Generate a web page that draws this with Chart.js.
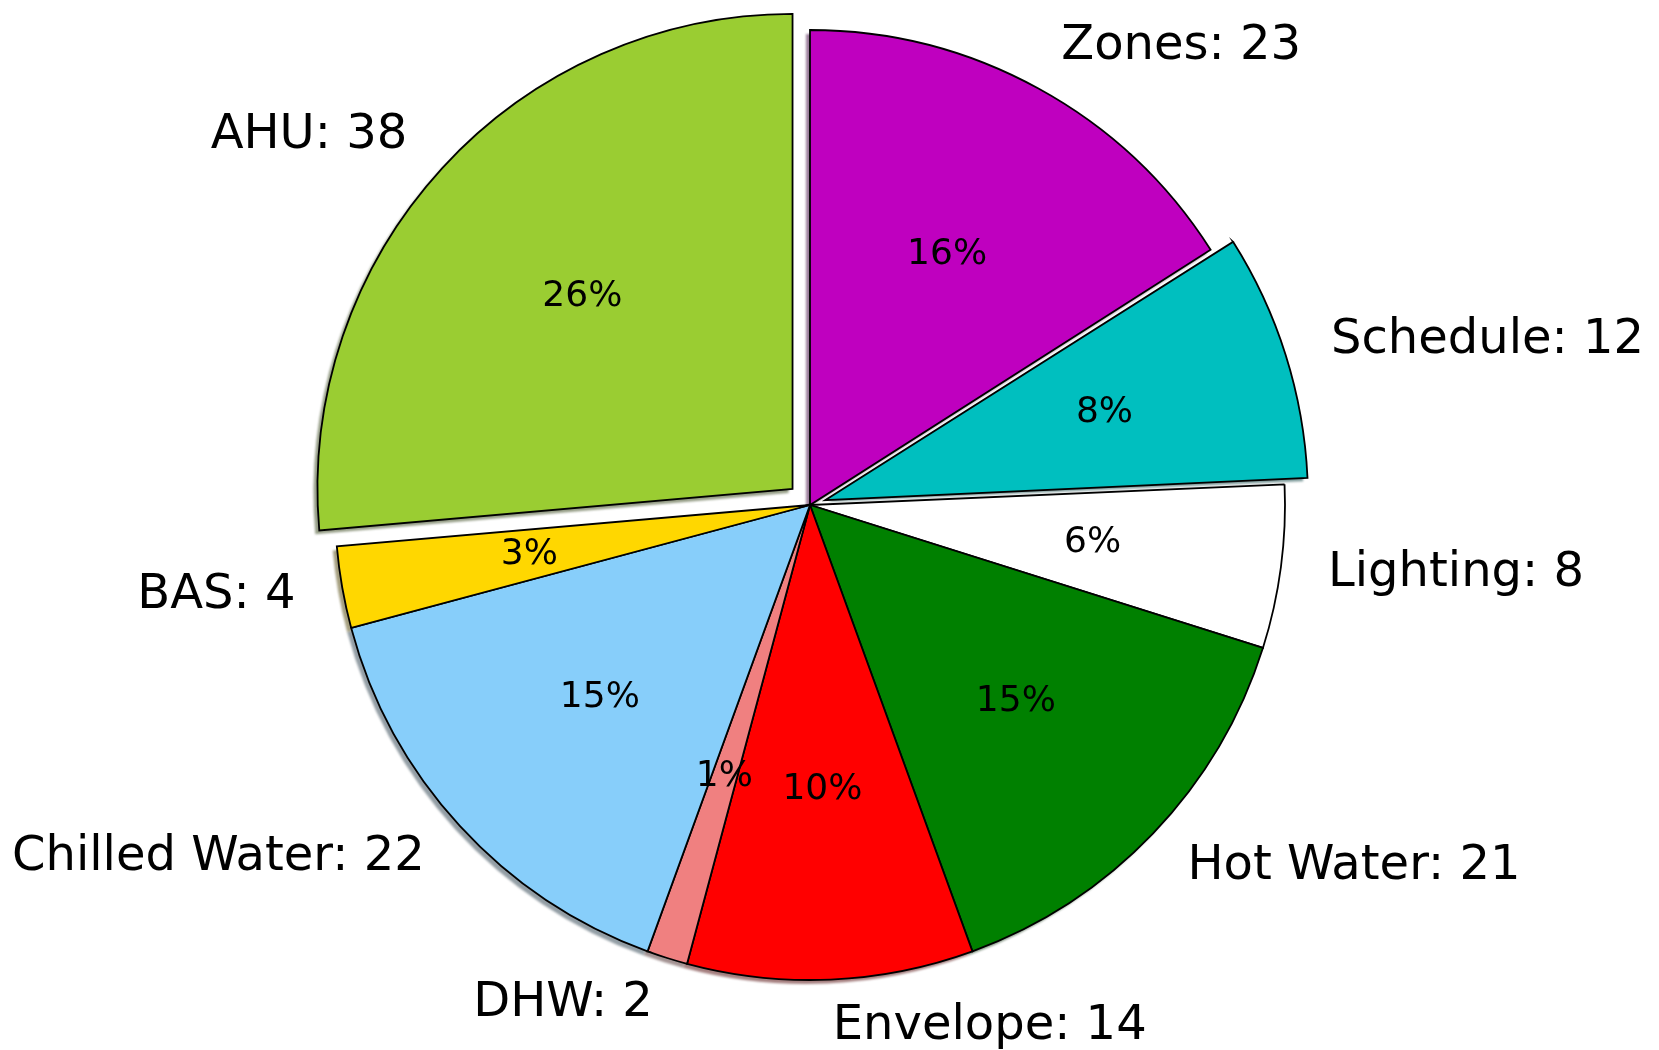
<!DOCTYPE html>
<html>
<head>
<meta charset="utf-8">
<script src="https://cdn.jsdelivr.net/npm/chart.js@4.4.1/dist/chart.umd.min.js"></script>
<style>
  html, body { margin: 0; padding: 0; background: #fff; }
  #contenedor { width: 1659px; height: 1050px; }
</style>
</head>
<body>
<div id="contenedor"><canvas id="pieChart"></canvas></div>
<script>
// Datos (en el orden del gráfico, desde arriba en sentido horario)
const categorias = ['Zones', 'Schedule', 'Lighting', 'Hot Water', 'Envelope', 'DHW', 'Chilled Water', 'BAS', 'AHU'];
const valores = [23, 12, 8, 21, 14, 2, 22, 4, 38];
const colores = ['#BF00BF', '#00BFBF', '#FFFFFF', '#008000', '#FF0000', '#F08080', '#87CEFA', '#FFD700', '#9ACD32'];

// Estilo
const RADIO = 475;
const EXPLOSION = [0, 0.05, 0, 0, 0, 0, 0, 0, 0.05];
const SOMBRA = { dx: -4, dy: 4 };
const FUENTE = '"DejaVu Sans", sans-serif';

const total = valores.reduce((a, b) => a + b, 0);

// chart.js traslada el arco offset/4 * (1 + fix); lo invertimos para desplazar frac * radio
function offsetParaArco(frac, circ) {
    if (!frac) return 0;
    const fix = 1 - Math.sin(Math.min(Math.PI, circ));
    return 4 * frac * RADIO / (1 + fix);
}
const offsets = valores.map((v, i) => offsetParaArco(EXPLOSION[i], v / total * 2 * Math.PI));

function colorSombra(hex) {
    const r = parseInt(hex.slice(1, 3), 16) * 0.3;
    const g = parseInt(hex.slice(3, 5), 16) * 0.3;
    const b = parseInt(hex.slice(5, 7), 16) * 0.3;
    return `rgba(${r|0}, ${g|0}, ${b|0}, 0.5)`;
}

// centro real de cada porción (con la explosión)
function centroArco(arc, i) {
    const mid = (arc.startAngle + arc.endAngle) / 2;
    const d = EXPLOSION[i] * arc.outerRadius;
    return { mid, cx: arc.x + Math.cos(mid) * d, cy: arc.y + Math.sin(mid) * d };
}

// Sombra debajo de todas las porciones
const sombraPlugin = {
    id: 'sombra',
    beforeDatasetsDraw(chart) {
        const ctx = chart.ctx;
        ctx.save();
        ctx.filter = 'blur(1px)';
        chart.getDatasetMeta(0).data.forEach((arc, i) => {
            const { cx, cy } = centroArco(arc, i);
            const x = cx + SOMBRA.dx, y = cy + SOMBRA.dy;
            ctx.beginPath();
            ctx.moveTo(x, y);
            ctx.arc(x, y, arc.outerRadius, arc.startAngle, arc.endAngle);
            ctx.closePath();
            ctx.fillStyle = colorSombra(colores[i]);
            ctx.fill();
        });
        ctx.restore();
    }
};

// Etiquetas exteriores y porcentajes interiores
const etiquetasPlugin = {
    id: 'etiquetas',
    afterDatasetsDraw(chart) {
        const ctx = chart.ctx;
        ctx.save();
        ctx.fillStyle = '#000';
        ctx.textBaseline = 'middle';
        chart.getDatasetMeta(0).data.forEach((arc, i) => {
            const { mid, cx, cy } = centroArco(arc, i);
            const r = arc.outerRadius;
            const ux = Math.cos(mid), uy = Math.sin(mid);

            const lx = cx + ux * r * 1.1;
            const ly = cy + uy * r * 1.1;
            ctx.font = `48px ${FUENTE}`;
            ctx.textAlign = lx > arc.x ? 'left' : 'right';
            ctx.fillText(`${categorias[i]}: ${valores[i]}`, lx, ly);

            const pct = Math.round(valores[i] / total * 100) + '%';
            ctx.font = `36px ${FUENTE}`;
            ctx.textAlign = 'center';
            ctx.fillText(pct, cx + ux * r * 0.6, cy + uy * r * 0.6);
        });
        ctx.restore();
    }
};

const ctx = document.getElementById('pieChart').getContext('2d');
const miGraficaPie = new Chart(ctx, {
    type: 'pie',
    data: {
        labels: categorias,
        datasets: [{
            data: valores,
            backgroundColor: colores,
            borderColor: '#000',
            borderWidth: 1.8,
            borderJoinStyle: 'miter',
            offset: offsets,
            hoverOffset: 0,
            radius: RADIO
        }]
    },
    options: {
        responsive: true,
        maintainAspectRatio: false,
        animation: false,
        events: [],
        layout: { padding: { left: 0, right: 39, top: 0, bottom: 40 } },
        plugins: {
            legend: { display: false },
            tooltip: { enabled: false }
        }
    },
    plugins: [sombraPlugin, etiquetasPlugin]
});
</script>
</body>
</html>
